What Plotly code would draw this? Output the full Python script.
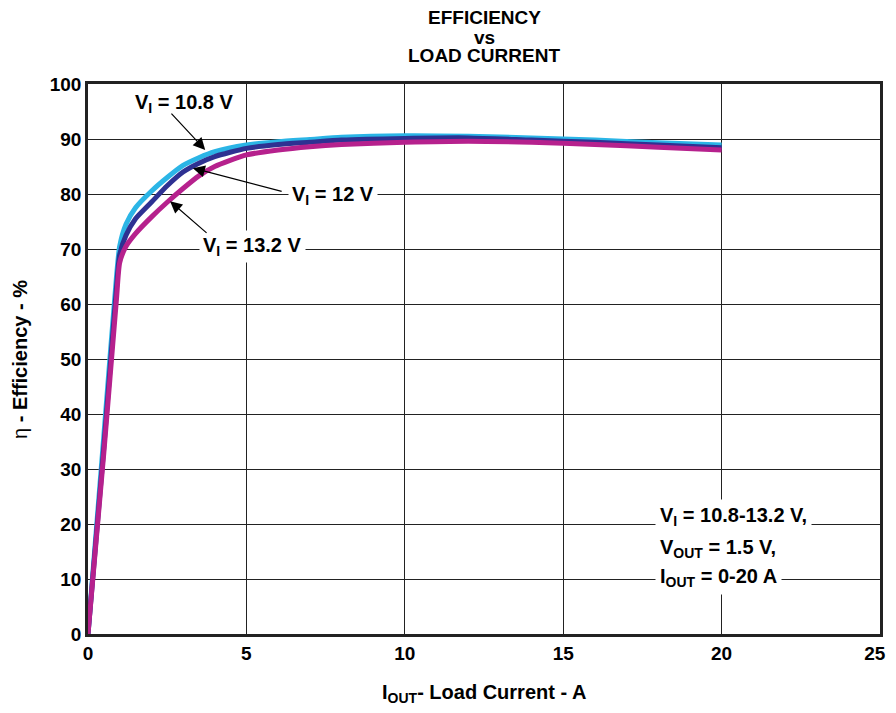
import plotly.graph_objects as go

iout = [0, 0.5, 0.9, 1.0, 1.2, 1.5, 2, 2.5, 3, 3.5, 4, 5, 6, 7, 8, 10, 12, 14, 16, 18, 20]
eff_108 = [0, 36, 65, 70.5, 74.5, 77.5, 80.5, 83, 85.2, 86.6, 87.7, 88.9, 89.5, 89.9, 90.3, 90.6, 90.5, 90.2, 89.8, 89.3, 88.9]
eff_12 = [0, 34, 63, 69, 72.5, 75.5, 78.5, 81.5, 84, 85.6, 86.8, 88.3, 89, 89.4, 89.8, 90.1, 90.2, 89.8, 89.4, 88.9, 88.4]
eff_132 = [0, 33, 61, 67.5, 70.5, 72.8, 75.8, 78.5, 81, 83.3, 85.0, 87.1, 88, 88.6, 89.0, 89.4, 89.6, 89.4, 89, 88.5, 88.0]

x_ticks = [0, 5, 10, 15, 20, 25]
x_tick_labels = ["0", "5", "10", "15", "20", "25\u00a0\u00a0"]
y_ticks = [0, 10, 20, 30, 40, 50, 60, 70, 80, 90, 100]

FONT = "Liberation Sans, Arial, sans-serif"

fig = go.Figure()
for y, col, name in [(eff_108, "#2BB5E6", "10.8 V"), (eff_12, "#2E3192", "12 V"), (eff_132, "#B6218D", "13.2 V")]:
    fig.add_trace(go.Scatter(x=iout, y=y, mode="lines", name=name,
                             line=dict(color=col, width=5, shape="spline", smoothing=0.6)))

axis_common = dict(showgrid=True, gridcolor="#222", gridwidth=1.2, zeroline=False, automargin=False,
                   showline=True, linecolor="#222", linewidth=2.5, mirror=True,
                   ticks="", tickfont=dict(family=FONT, size=19, color="black", weight="bold"))
fig.update_xaxes(range=[0, 25], tickvals=x_ticks, ticktext=x_tick_labels, **axis_common)
fig.update_yaxes(range=[0, 100], tickvals=y_ticks, **axis_common)

ann = []
lf = dict(family=FONT, size=20, color="black", weight="bold")
ttf = dict(family=FONT, size=19, color="black", weight="bold")
# Title
for txt, py in [("EFFICIENCY", 18), ("vs", 37), ("LOAD CURRENT", 56)]:
    ann.append(dict(text=txt, x=0.5, xref="paper", y=(634 - py) / 550, yref="paper",
                    showarrow=False, font=ttf, xanchor="center", yanchor="middle"))
# Axis titles
ann.append(dict(text="I<sub>OUT</sub>- Load Current - A", x=0.5, xref="paper", y=(634 - 693) / 550,
                yref="paper", showarrow=False, font=lf, xanchor="center", yanchor="middle"))
ann.append(dict(text="<span style='font-weight:normal'>η</span> - Efficiency - %", x=(20 - 88) / 792,
                xref="paper", y=(634 - 360) / 550, yref="paper",
                showarrow=False, font=lf, textangle=-90, xanchor="center", yanchor="middle"))
# Curve labels
for txt, x, y in [("V<sub>I</sub> = 10.8 V", 3.06, 96.4), ("V<sub>I</sub> = 12 V", 7.73, 79.8),
                  ("V<sub>I</sub> = 13.2 V", 5.18, 70.4)]:
    ann.append(dict(text=txt, x=x, y=y, xref="x", yref="y", showarrow=False, font=lf,
                    bgcolor="white", borderpad=3))
# Arrows
for hx, hy, tx, ty in [(3.7, 88.0, 2.59, 94.9), (3.31, 84.7, 6.16, 80.4), (2.59, 78.7, 3.79, 72.7)]:
    ann.append(dict(text="", x=hx, y=hy, ax=tx, ay=ty, xref="x", yref="y", axref="x", ayref="y",
                    showarrow=True, arrowhead=2, arrowsize=2, arrowwidth=1.2, arrowcolor="black"))
# Conditions
for txt, y in [("V<sub>I</sub> = 10.8-13.2 V,", 21.3), ("V<sub>OUT</sub> = 1.5 V,", 15.6),
               ("I<sub>OUT</sub> = 0-20 A", 10.2)]:
    ann.append(dict(text=txt, x=17.9, y=y, xref="x", yref="y", showarrow=False, font=lf,
                    xanchor="left", yanchor="middle", bgcolor="white", borderpad=4))

# page body has an 8px margin, so shift plot area by -8px
fig.update_layout(width=888, height=697, plot_bgcolor="white", paper_bgcolor="white",
                  margin=dict(l=80, r=16, t=76, b=71, autoexpand=False), showlegend=False, annotations=ann)
fig.write_html("out.html")
